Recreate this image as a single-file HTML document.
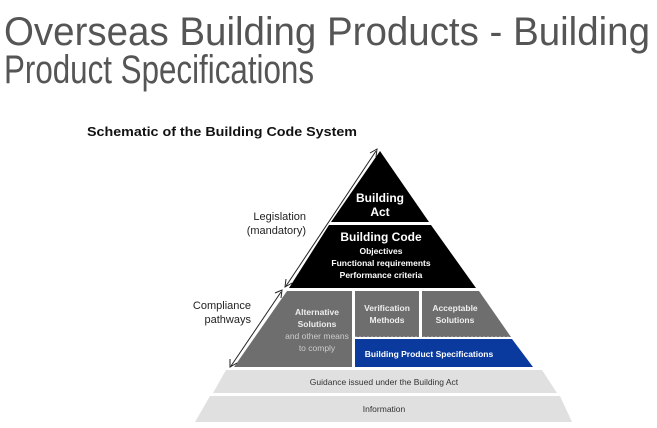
<!DOCTYPE html>
<html><head><meta charset="utf-8"><style>
html,body{margin:0;padding:0;background:#fff}
svg{display:block}
</style></head><body>
<svg width="657" height="428" viewBox="0 0 657 428" xmlns="http://www.w3.org/2000/svg" font-family="Liberation Sans, sans-serif">
<rect width="657" height="428" fill="#fff"/>
<text x="4" y="45" font-size="40" fill="#555" textLength="646" lengthAdjust="spacingAndGlyphs">Overseas Building Products - Building</text>
<text x="4" y="83" font-size="40" fill="#555" textLength="310" lengthAdjust="spacingAndGlyphs">Product Specifications</text>
<text x="87" y="136" font-size="12.5" font-weight="bold" fill="#111" textLength="270" lengthAdjust="spacingAndGlyphs">Schematic of the Building Code System</text>

<!-- black pyramid -->
<polygon points="380,151 429,222 331,222" fill="#000"/>
<polygon points="329,225 431,225 476,288 289,288" fill="#000"/>
<!-- gray -->
<polygon points="287,291 352,291 352,367 234,367" fill="#6e6e6e"/>
<polygon points="355,291 419,291 419,337 355,337" fill="#6e6e6e"/>
<polygon points="422,291 479,291 511,337 422,337" fill="#6e6e6e"/>
<line x1="355" y1="337.5" x2="511" y2="337.5" stroke="#fff" stroke-width="1.5" stroke-dasharray="2,2"/>
<polygon points="355,339 512,339 533,367 355,367" fill="#0a3a9e"/>
<!-- light bands -->
<polygon points="226,370 542,370 557,393 213,393" fill="#e0e0e0"/>
<polygon points="210,396 560,396 572,422 195,422" fill="#e0e0e0"/>

<!-- arrows -->
<g stroke="#222" stroke-width="1" fill="none">
<line x1="376" y1="151" x2="286" y2="286"/>
<polyline points="370,153 377,149 376,157"/>
<polyline points="286,279 285,287 292,283"/>
<line x1="281" y1="292" x2="231" y2="366"/>
<polyline points="275,293 282,290 281,298"/>
<polyline points="230,359 230,367 237,363"/>
</g>

<g fill="#fff" font-weight="bold" text-anchor="middle">
<text x="380" y="202" font-size="12">Building</text>
<text x="380" y="216" font-size="12">Act</text>
<text x="381" y="241" font-size="12">Building Code</text>
<text x="381" y="254" font-size="8.5">Objectives</text>
<text x="381" y="266" font-size="8.5">Functional requirements</text>
<text x="381" y="278" font-size="8.5">Performance criteria</text>
<text x="317" y="315" font-size="8.5" fill="#eee">Alternative</text>
<text x="317" y="327" font-size="8.5" fill="#eee">Solutions</text>
<text x="387" y="311" font-size="8.5" fill="#eee">Verification</text>
<text x="387" y="323" font-size="8.5" fill="#eee">Methods</text>
<text x="455" y="311" font-size="8.5" fill="#eee">Acceptable</text>
<text x="455" y="323" font-size="8.5" fill="#eee">Solutions</text>
<text x="429" y="357" font-size="8.5">Building Product Specifications</text>
</g>
<g fill="#ccc" font-size="8.5" text-anchor="middle">
<text x="317" y="339">and other means</text>
<text x="317" y="351">to comply</text>
</g>
<g fill="#333" font-size="8.5" text-anchor="middle">
<text x="384" y="385">Guidance issued under the Building Act</text>
<text x="384" y="412">Information</text>
</g>
<g fill="#222" font-size="11" text-anchor="end">
<text x="306" y="220">Legislation</text>
<text x="306" y="234">(mandatory)</text>
<text x="251" y="309">Compliance</text>
<text x="251" y="323">pathways</text>
</g>
</svg>
</body></html>
